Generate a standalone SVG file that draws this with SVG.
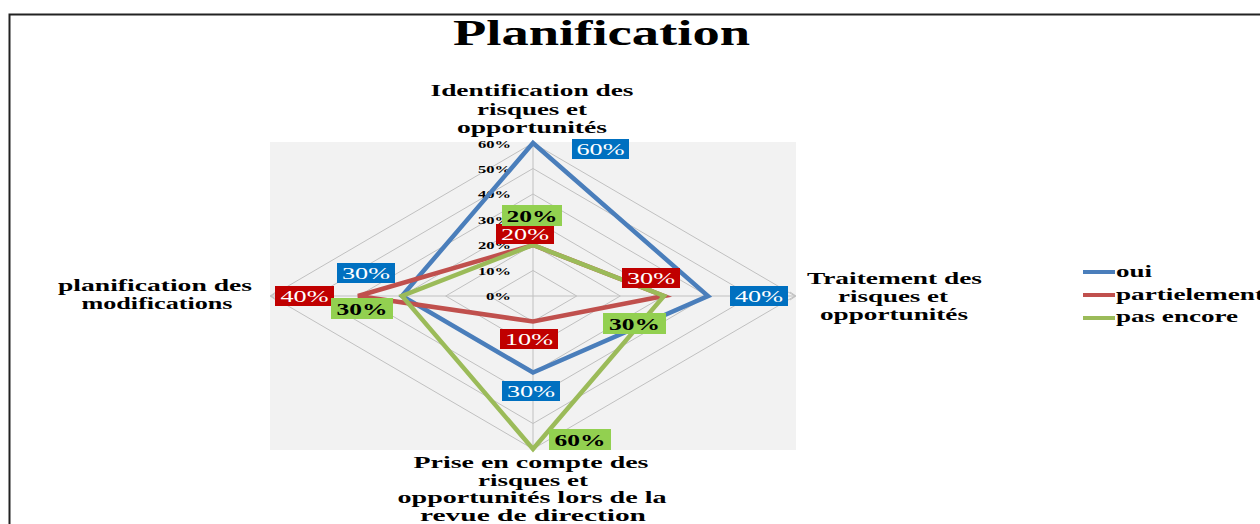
<svg xmlns="http://www.w3.org/2000/svg" width="1260" height="524" viewBox="0 0 1260 524">
<style>
.t{font-family:"Liberation Serif","Times New Roman",serif;font-weight:bold;fill:#000}
.ax{font-size:17px;text-anchor:middle}
.tk{font-size:11px;text-anchor:end}
.lg{font-size:17px}
.grid{fill:none;stroke:#c0c0c0;stroke-width:1}
.ser{fill:none;stroke-width:4.5;stroke-linejoin:miter}
.dl{font-family:"Liberation Serif","Times New Roman",serif;font-size:17px;text-anchor:middle}
.dw{fill:#fff}
.dk{fill:#000;font-weight:bold}
</style>
<rect x="0" y="0" width="1260" height="524" fill="#fff"/>
<g id="frame"><rect x="9.5" y="14.5" width="1300" height="560" fill="none" stroke="#222" stroke-width="2"/></g>
<g id="title"><text class="t" x="601.5" y="45" font-size="36" text-anchor="middle" textLength="297" lengthAdjust="spacingAndGlyphs">Planification</text></g>
<g id="plot">
<rect x="270" y="142" width="526" height="308" fill="#f2f2f2"/>
<g id="grid" class="grid">
<polygon points="533,270.5 576.7,296 533,321.5 489.3,296"/>
<polygon points="533,245 620.3,296 533,347 445.7,296"/>
<polygon points="533,219.5 664,296 533,372.5 402,296"/>
<polygon points="533,194 707.7,296 533,398 358.3,296"/>
<polygon points="533,168.5 751.3,296 533,423.5 314.7,296"/>
<polygon points="533,143 795,296 533,449 271,296"/>
<line x1="533" y1="143" x2="533" y2="449"/>
<line x1="271" y1="296" x2="795" y2="296"/>
<polyline points="276,292 270,296 276,300"/>
<polyline points="790,292 796,296 790,300"/>
</g>
<g id="ticks" class="t tk">
<text x="511" y="148" textLength="33" lengthAdjust="spacingAndGlyphs">60%</text>
<text x="511" y="173" textLength="33" lengthAdjust="spacingAndGlyphs">50%</text>
<text x="511" y="198" textLength="33" lengthAdjust="spacingAndGlyphs">40%</text>
<text x="511" y="224" textLength="33" lengthAdjust="spacingAndGlyphs">30%</text>
<text x="511" y="249" textLength="33" lengthAdjust="spacingAndGlyphs">20%</text>
<text x="511" y="275" textLength="33" lengthAdjust="spacingAndGlyphs">10%</text>
<text x="511" y="300" textLength="25" lengthAdjust="spacingAndGlyphs">0%</text>
</g>
</g>
<g id="connectors">
<polygon id="series-oui" class="ser" stroke="#4a7ebb" points="533,143 708,296 533,372.5 402,296"/>
<polygon id="series-partielement" class="ser" stroke="#c0504d" points="533,245 664,296 533,321.5 358,296"/>
<polygon id="series-pas-encore" class="ser" stroke="#9bbb59" points="533,245 664,296 533,449 402,296"/>
</g>
<g id="labels-oui">
<rect x="572" y="139" width="57" height="20" fill="#0070c0"/><text class="dl dw" x="600.5" y="155" textLength="48" lengthAdjust="spacingAndGlyphs">60%</text>
<rect x="337" y="263" width="58" height="20" fill="#0070c0"/><text class="dl dw" x="366" y="279" textLength="48" lengthAdjust="spacingAndGlyphs">30%</text>
<rect x="730" y="286" width="58" height="20" fill="#0070c0"/><text class="dl dw" x="759" y="302" textLength="48" lengthAdjust="spacingAndGlyphs">40%</text>
<rect x="502" y="381" width="58" height="20" fill="#0070c0"/><text class="dl dw" x="531" y="397" textLength="48" lengthAdjust="spacingAndGlyphs">30%</text>
</g>
<g id="labels-partielement">
<rect x="496" y="224" width="58" height="20" fill="#c00000"/><text class="dl dw" x="525" y="240" textLength="48" lengthAdjust="spacingAndGlyphs">20%</text>
<rect x="275" y="286" width="59" height="20" fill="#c00000"/><text class="dl dw" x="304.5" y="302" textLength="48" lengthAdjust="spacingAndGlyphs">40%</text>
<rect x="622" y="268" width="58" height="20" fill="#c00000"/><text class="dl dw" x="651" y="284" textLength="48" lengthAdjust="spacingAndGlyphs">30%</text>
<rect x="500" y="329" width="58" height="20" fill="#c00000"/><text class="dl dw" x="529" y="345" textLength="48" lengthAdjust="spacingAndGlyphs">10%</text>
</g>
<g id="labels-pas-encore">
<rect x="502" y="205" width="60" height="21" fill="#92d050"/><text class="dl dk" x="532" y="222" textLength="51" lengthAdjust="spacingAndGlyphs">20%</text>
<rect x="331" y="298" width="62" height="21" fill="#92d050"/><text class="dl dk" x="362" y="315" textLength="51" lengthAdjust="spacingAndGlyphs">30%</text>
<rect x="603" y="313" width="63" height="21" fill="#92d050"/><text class="dl dk" x="634.5" y="330" textLength="51" lengthAdjust="spacingAndGlyphs">30%</text>
<rect x="549" y="429" width="62" height="21" fill="#92d050"/><text class="dl dk" x="580" y="446" textLength="51" lengthAdjust="spacingAndGlyphs">60%</text>
</g>
<g id="axis-top" class="t ax">
<text x="532" y="96" textLength="203" lengthAdjust="spacingAndGlyphs">Identification des</text>
<text x="532" y="115" textLength="110" lengthAdjust="spacingAndGlyphs">risques et</text>
<text x="532" y="133" textLength="150" lengthAdjust="spacingAndGlyphs">opportunités</text>
</g>
<g id="axis-right" class="t ax">
<text x="894.5" y="284" textLength="175" lengthAdjust="spacingAndGlyphs">Traitement des</text>
<text x="893" y="302" textLength="110" lengthAdjust="spacingAndGlyphs">risques et</text>
<text x="894" y="320" textLength="148" lengthAdjust="spacingAndGlyphs">opportunités</text>
</g>
<g id="axis-bottom" class="t ax">
<text x="531" y="468" textLength="235" lengthAdjust="spacingAndGlyphs">Prise en compte des</text>
<text x="533" y="486" textLength="110" lengthAdjust="spacingAndGlyphs">risques et</text>
<text x="532" y="503" textLength="269" lengthAdjust="spacingAndGlyphs">opportunités lors de la</text>
<text x="533" y="521" textLength="226" lengthAdjust="spacingAndGlyphs">revue de direction</text>
</g>
<g id="axis-left" class="t ax">
<text x="155" y="291" textLength="194" lengthAdjust="spacingAndGlyphs">planification des</text>
<text x="157" y="309" textLength="151" lengthAdjust="spacingAndGlyphs">modifications</text>
</g>
<g id="legend">
<line x1="1083" y1="272" x2="1115" y2="272" stroke="#4a7ebb" stroke-width="4"/>
<line x1="1083" y1="295" x2="1115" y2="295" stroke="#c0504d" stroke-width="4"/>
<line x1="1083" y1="318" x2="1115" y2="318" stroke="#9bbb59" stroke-width="4"/>
<text class="t lg" x="1116" y="277" textLength="36" lengthAdjust="spacingAndGlyphs">oui</text>
<text class="t lg" x="1116" y="300" textLength="148" lengthAdjust="spacingAndGlyphs">partielement</text>
<text class="t lg" x="1116" y="322" textLength="122" lengthAdjust="spacingAndGlyphs">pas encore</text>
</g>
</svg>
